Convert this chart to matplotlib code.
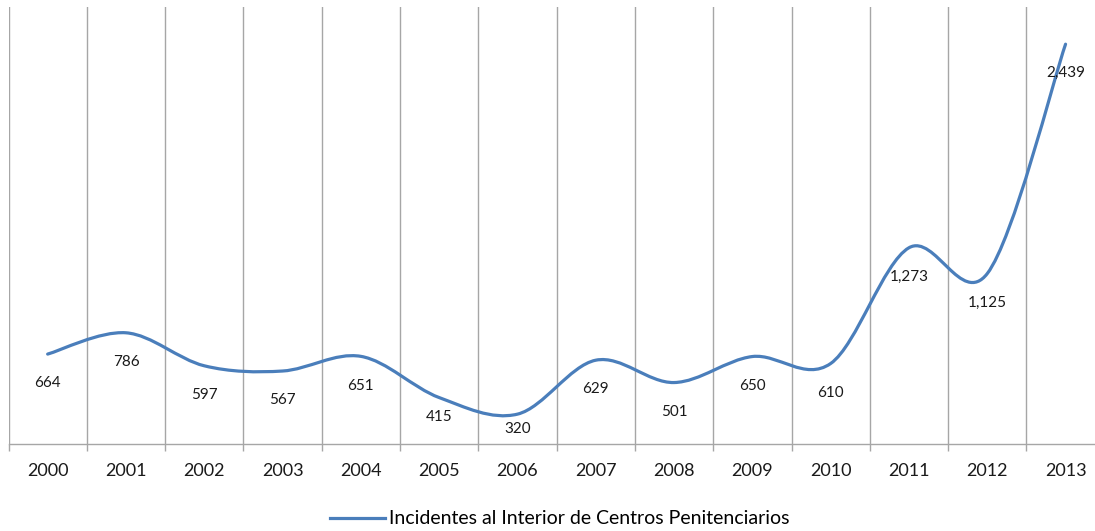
import numpy as np
import matplotlib.pyplot as plt
from matplotlib.path import Path
from matplotlib.patches import PathPatch
from matplotlib.lines import Line2D

# data
years = ['2000', '2001', '2002', '2003', '2004', '2005', '2006',
         '2007', '2008', '2009', '2010', '2011', '2012', '2013']
incidents = [664, 786, 597, 567, 651, 415, 320, 629, 501, 650, 610, 1273, 1125, 2439]
series_name = 'Incidentes al Interior de Centros Penitenciarios'

# label offsets below each point (points); low ones are pushed up to stay above the axis
label_offsets = [-21, -21, -21, -21, -21, -14, -11, -21, -21, -21, -21, -21, -21, -21]

line_color = '#4a7ebb'
grid_color = '#a6a6a6'
plt.rcParams['font.family'] = ['Lato', 'DejaVu Sans']

W, H = 1095, 531
fig = plt.figure(figsize=(W / 100, H / 100), dpi=100)
# plot area in pixels: left 8.5, width 14 * 78.3, top 7, bottom 444
left, width, top, bottom = 8.5, 14 * 78.3, 7, 444
ax = fig.add_axes([left / W, 1 - bottom / H, width / W, (bottom - top) / H])

x = np.arange(len(years), dtype=float)
y = np.array(incidents, dtype=float)

# Excel-style smoothed line: cubic Bezier segments (Catmull-Rom, tension 1/6)
pts = np.column_stack([x, y])
ext = np.vstack([pts[0], pts, pts[-1]])
verts = [tuple(pts[0])]
codes = [Path.MOVETO]
for i in range(len(pts) - 1):
    p0, p1, p2, p3 = ext[i], ext[i + 1], ext[i + 2], ext[i + 3]
    c1 = p1 + (p2 - p0) / 6.0
    c2 = p2 - (p3 - p1) / 6.0
    verts += [tuple(c1), tuple(c2), tuple(p2)]
    codes += [Path.CURVE4] * 3
ax.add_patch(PathPatch(Path(verts, codes), facecolor='none', edgecolor=line_color,
                       linewidth=2.3, capstyle='round', joinstyle='round', zorder=3))

for xi, yi, off in zip(x, y, label_offsets):
    ax.annotate(f'{int(yi):,}', (xi, yi), xytext=(0, off), textcoords='offset points',
                ha='center', va='center', fontsize=11, color='#1a1a1a', zorder=4)

ax.set_xlim(-0.5, len(years) - 0.5)
ax.set_ylim(149, 2652)
ax.set_yticks([])
ax.set_xticks(x)
ax.set_xticklabels(years, fontsize=13, color='#1a1a1a')
ax.tick_params(axis='x', which='major', length=0, pad=13.5)
ax.set_xticks(np.arange(-0.5, len(years), 1.0), minor=True)
ax.tick_params(axis='x', which='minor', length=5, width=1, color=grid_color, direction='out')
ax.grid(which='minor', axis='x', color=grid_color, linewidth=1)
ax.grid(which='major', visible=False)
for s in ['top', 'right', 'left']:
    ax.spines[s].set_visible(False)
ax.spines['bottom'].set_color(grid_color)
ax.spines['bottom'].set_linewidth(1)

handle = Line2D([], [], color=line_color, linewidth=2.3)
fig.legend([handle], [series_name], loc='center', bbox_to_anchor=(560 / W, 1 - 519 / H),
           frameon=False, fontsize=14, handlelength=2.8, handletextpad=0.25)

fig.savefig('out.png', dpi=100)
